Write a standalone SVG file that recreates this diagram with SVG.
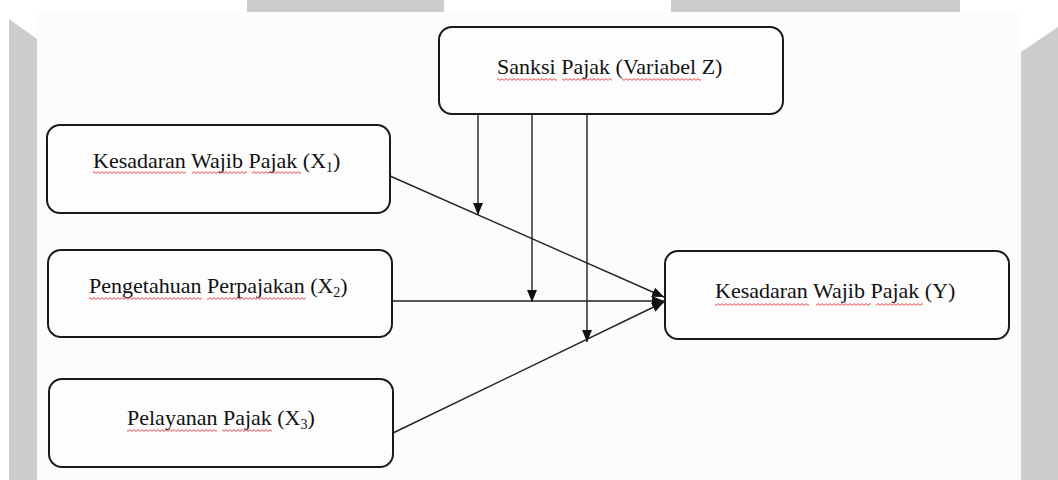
<svg xmlns="http://www.w3.org/2000/svg" width="1058" height="480" viewBox="0 0 1058 480">
<style>
.bg{fill:#cccccc}
.box{fill:#fdfdfd;stroke:#1a1a1a;stroke-width:2}
.lbl{font-family:"Liberation Serif","Times New Roman",serif;font-size:22px;fill:#111}
.sub{font-size:14px}
.ln{stroke:#222;stroke-width:1.4;fill:none}
.sq{fill:url(#squig)}
</style>
<defs>
<marker id="ah" markerUnits="userSpaceOnUse" markerWidth="13" markerHeight="11" refX="12" refY="5" orient="auto">
<path d="M0,0 L12,5 L0,10 Z" fill="#111"/>
</marker>
<pattern id="squig" width="4" height="3" patternUnits="userSpaceOnUse">
<path d="M0,2.4 L2,0.6 L4,2.4" stroke="#e03030" stroke-width="0.9" fill="none"/>
</pattern>
</defs>
<rect width="1058" height="480" fill="#ffffff"/>
<rect x="37" y="12" width="984" height="468" fill="#fcfcfc"/>
<polygon class="bg" points="9,19 37,39 37,480 9,480"/>
<polygon class="bg" points="1021,52 1058,27 1058,480 1021,480"/>
<rect class="bg" x="247" y="0" width="197" height="12"/>
<rect class="bg" x="671" y="0" width="289" height="12"/>

<g id="connectors">
<line class="ln" x1="390" y1="176" x2="664" y2="297" marker-end="url(#ah)"/>
<line class="ln" x1="392" y1="301" x2="664" y2="301" marker-end="url(#ah)"/>
<line class="ln" x1="393" y1="433" x2="664" y2="302" marker-end="url(#ah)"/>
<line class="ln" x1="478" y1="115" x2="478" y2="215" marker-end="url(#ah)"/>
<line class="ln" x1="532" y1="115" x2="532" y2="302" marker-end="url(#ah)"/>
<line class="ln" x1="587" y1="115" x2="587" y2="342" marker-end="url(#ah)"/>
</g>

<g id="node-z">
<rect class="box" x="439" y="27" width="344" height="87" rx="13"/>
<text class="lbl" x="497" y="74">Sanksi Pajak (Variabel Z)</text>
<rect class="sq" x="497" y="78" width="60" height="3"/>
<rect class="sq" x="562" y="78" width="50" height="3"/>
<rect class="sq" x="622" y="78" width="79" height="3"/>
</g>

<g id="node-x1">
<rect class="box" x="47" y="125" width="343" height="88" rx="13"/>
<text class="lbl" x="93" y="168">Kesadaran Wajib Pajak (X<tspan class="sub" dy="4">1</tspan><tspan dy="-4">)</tspan></text>
<rect class="sq" x="93" y="171" width="93" height="3"/>
<rect class="sq" x="192" y="171" width="55" height="3"/>
<rect class="sq" x="252" y="171" width="49" height="3"/>
</g>

<g id="node-x2">
<rect class="box" x="48" y="250" width="344" height="87" rx="13"/>
<text class="lbl" x="89" y="293">Pengetahuan Perpajakan (X<tspan class="sub" dy="4">2</tspan><tspan dy="-4">)</tspan></text>
<rect class="sq" x="89" y="297" width="113" height="3"/>
<rect class="sq" x="207" y="297" width="99" height="3"/>
</g>

<g id="node-x3">
<rect class="box" x="49" y="379" width="344" height="88" rx="13"/>
<text class="lbl" x="127" y="425">Pelayanan Pajak (X<tspan class="sub" dy="4">3</tspan><tspan dy="-4">)</tspan></text>
<rect class="sq" x="127" y="429" width="90" height="3"/>
<rect class="sq" x="222" y="429" width="50" height="3"/>
</g>

<g id="node-y">
<rect class="box" x="665" y="251" width="344" height="88" rx="13"/>
<text class="lbl" x="715" y="298">Kesadaran Wajib Pajak (Y)</text>
<rect class="sq" x="715" y="303" width="94" height="3"/>
<rect class="sq" x="816" y="303" width="55" height="3"/>
<rect class="sq" x="876" y="303" width="47" height="3"/>
</g>
</svg>
